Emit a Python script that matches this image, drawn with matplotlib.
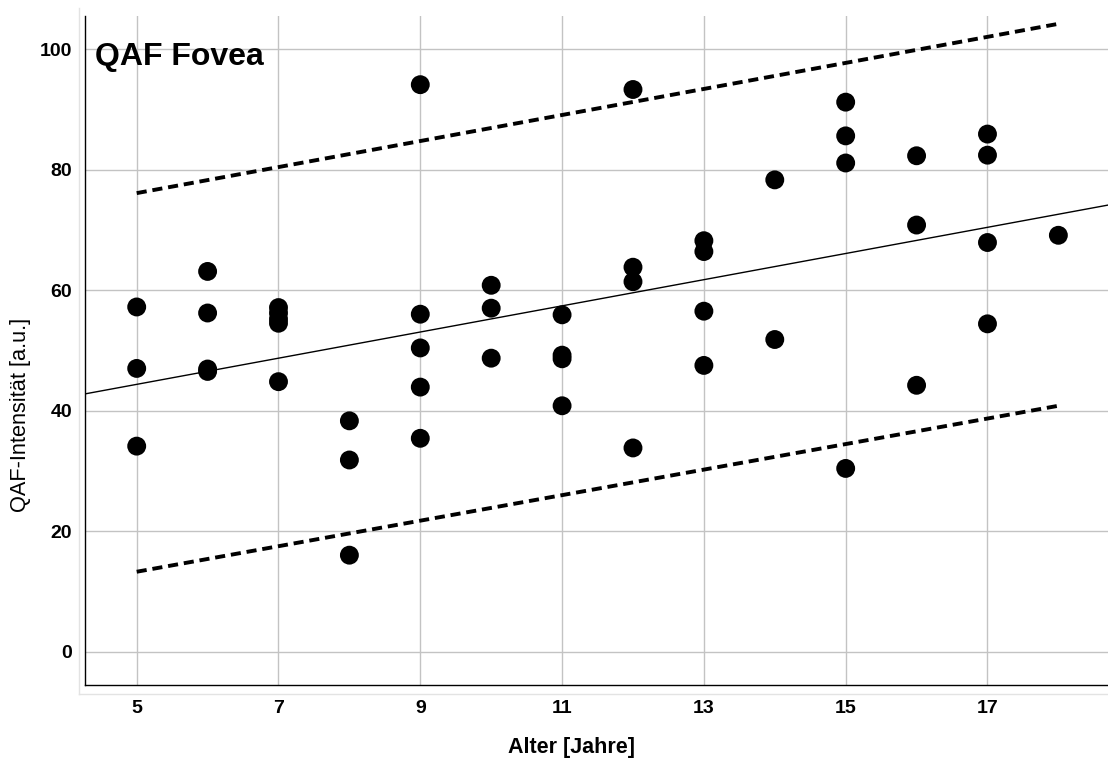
import numpy as np
import matplotlib
matplotlib.use("Agg")
import matplotlib.pyplot as plt
from matplotlib.lines import Line2D

plt.rcParams['font.family'] = ['Liberation Sans', 'DejaVu Sans']

# ---- data ----
age = [5, 5, 5,
       6, 6, 6, 6,
       7, 7, 7, 7, 7,
       8, 8, 8,
       9, 9, 9, 9, 9,
       10, 10, 10,
       11, 11, 11, 11,
       12, 12, 12, 12,
       13, 13, 13, 13,
       14, 14,
       15, 15, 15, 15,
       16, 16, 16,
       17, 17, 17, 17,
       18]
qaf = [57.2, 47.0, 34.1,
       63.1, 56.2, 46.9, 46.5,
       57.1, 56.2, 55.2, 54.5, 44.8,
       38.3, 31.8, 16.0,
       94.1, 56.0, 50.4, 43.9, 35.4,
       60.8, 57.0, 48.7,
       55.9, 49.2, 48.6, 40.8,
       93.3, 63.8, 61.4, 33.8,
       68.2, 66.4, 56.5, 47.5,
       78.3, 51.8,
       91.2, 85.6, 81.1, 30.4,
       82.3, 70.8, 44.2,
       85.9, 82.4, 67.9, 54.4,
       69.1]

# prediction-interval lines
pi_age = [5, 18]
pi_upper = [76.1, 104.2]
pi_lower = [13.25, 40.8]

x_ticks = [5, 7, 9, 11, 13, 15, 17]
y_ticks = [0, 20, 40, 60, 80, 100]
title_text = "QAF Fovea"
x_label = "Alter [Jahre]"
y_label = "QAF-Intensität [a.u.]"

# ---- figure ----
fig = plt.figure(figsize=(11.08, 7.58), dpi=100)
ax = fig.add_axes([85.3 / 1108, 1 - 685 / 758, (1108 - 85.3) / 1108, (685 - 16) / 758])

xa = np.array(age, dtype=float)
ya = np.array(qaf, dtype=float)
slope, intercept = np.polyfit(xa, ya, 1)

xlim = (4.275, 18.70)
ax.set_xlim(*xlim)
ax.set_ylim(-5.55, 105.5)

# fit line over full axis
xl = np.array(xlim)
ax.plot(xl, intercept + slope * xl, color='black', lw=1.0, zorder=3)

# prediction interval lines
for band in (pi_upper, pi_lower):
    ax.plot(pi_age, band, color='black', lw=2.8, dashes=(2.6, 1.5),
            dash_capstyle='butt', zorder=3)

ax.scatter(xa, ya, s=185, color='black', edgecolors='none', zorder=4)

ax.set_xticks(x_ticks)
ax.set_yticks(y_ticks)
ax.grid(True, color='#c3c3c3', lw=1.0)
ax.set_axisbelow(True)
ax.tick_params(length=0, labelsize=14)
for lab in ax.get_xticklabels() + ax.get_yticklabels():
    lab.set_fontweight('bold')
ax.tick_params(axis='x', pad=11)
ax.tick_params(axis='y', pad=9.5)

for side in ('top', 'right'):
    ax.spines[side].set_visible(False)
for side in ('left', 'bottom'):
    ax.spines[side].set_color('black')
    ax.spines[side].set_linewidth(1.0)

ax.text(4.41, 97.4, title_text, fontsize=23, fontweight='bold',
        ha='left', va='baseline', zorder=5)

fig.text(571 / 1108, 1 - 747 / 758, x_label, fontsize=15.5, fontweight='bold',
         ha='center', va='center')
fig.text(21 / 1108, 1 - 415 / 758, y_label, fontsize=15.7, rotation=90,
         ha='center', va='center')

# faint outer frame
fig.add_artist(Line2D([79 / 1108, 79 / 1108], [1 - 8 / 758, 1 - 694 / 758],
                      transform=fig.transFigure, color='#e3e3e3', lw=1.0))
fig.add_artist(Line2D([79 / 1108, 1.0], [1 - 694 / 758, 1 - 694 / 758],
                      transform=fig.transFigure, color='#e3e3e3', lw=1.0))

fig.savefig("out.png", dpi=100)
